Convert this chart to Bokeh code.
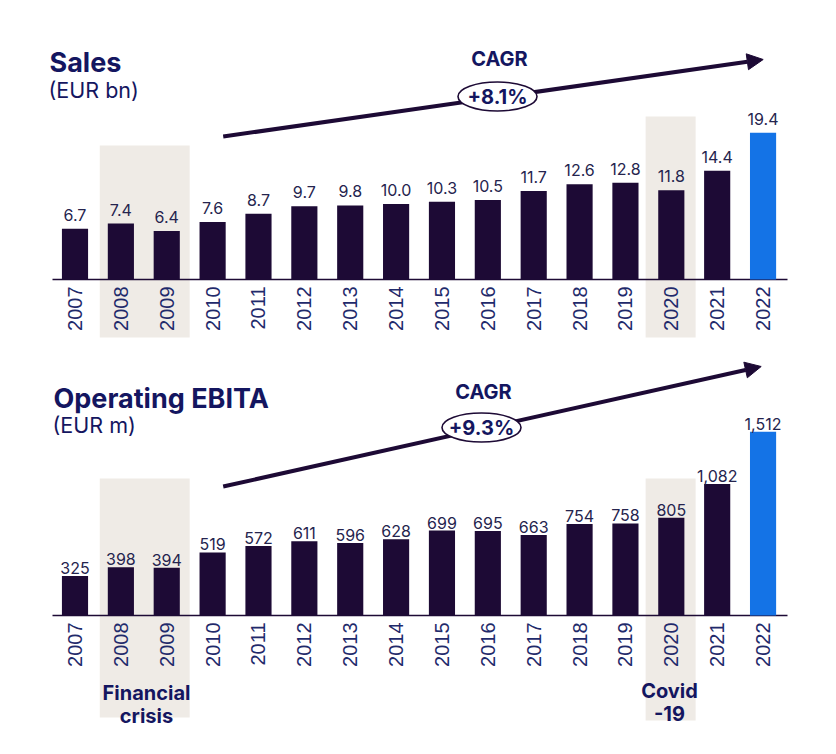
import math
from bokeh.plotting import figure
from bokeh.models import Range1d, Arrow, NormalHead, Label, ColumnDataSource
from bokeh.layouts import column
from bokeh.core.properties import value
from bokeh.embed import file_html
from bokeh.resources import INLINE

# ---------------- data ----------------
years = [2007, 2008, 2009, 2010, 2011, 2012, 2013, 2014, 2015, 2016, 2017, 2018, 2019, 2020, 2021, 2022]
sales = [6.7, 7.4, 6.4, 7.6, 8.7, 9.7, 9.8, 10.0, 10.3, 10.5, 11.7, 12.6, 12.8, 11.8, 14.4, 19.4]
sales_labels = ["6.7", "7.4", "6.4", "7.6", "8.7", "9.7", "9.8", "10.0", "10.3", "10.5", "11.7", "12.6", "12.8", "11.8", "14.4", "19.4"]
ebita = [325, 398, 394, 519, 572, 611, 596, 628, 699, 695, 663, 754, 758, 805, 1082, 1512]
ebita_labels = ["325", "398", "394", "519", "572", "611", "596", "628", "699", "695", "663", "754", "758", "805", "1,082", "1,512"]
year_labels = [str(y) for y in years]
sales_cagr = "+8.1%"
ebita_cagr = "+9.3%"
crisis_years = [2008, 2009]
covid_years = [2020, 2020]

# ---------------- style ----------------
DARK = "#1d0a35"
BLUE = "#1473e6"
NAVY = "#141660"
VAL = "#25244e"
YEARC = "#1f2a6b"
SHADE = "#efebe6"
FONT = "Inter"

OFF = 0             # page offset of the figures in the photograph
W = 836
SX = 45.87          # px per year
X2007 = 74.5        # image x of 2007
def xd(ix):
    return 2007 + (ix - X2007) / SX
XR = (xd(OFF), xd(OFF + W))

bar_colors = [BLUE if y == years[-1] else DARK for y in years]


def make_panel(h, top_img, base_img, ppu, vals, labels, title, unit, cagr,
               title_xy, unit_xy, arrow_s, arrow_e, ell_c, cagr_y, shades, lab_off, bottom_notes):
    def yd(iy):
        return (base_img - iy) / ppu
    p = figure(width=W, height=h, output_backend="svg", toolbar_location=None,
               x_range=Range1d(*XR), y_range=Range1d(yd(top_img + h), yd(top_img)),
               min_border=0, min_border_left=0, min_border_right=0,
               min_border_top=0, min_border_bottom=0)
    p.axis.visible = False
    p.grid.visible = False
    p.outline_line_color = None
    p.background_fill_color = "white"
    p.border_fill_color = "white"

    # shaded periods
    for (y0, y1, padl, padr, ttop, tbot) in shades:
        p.quad(left=[y0 - padl], right=[y1 + padr], top=[yd(ttop)], bottom=[yd(tbot)],
               fill_color=SHADE, line_color=None)

    # baseline
    p.segment(x0=[xd(52)], x1=[xd(787)], y0=[0], y1=[0], line_color=DARK, line_width=1.6)

    src = ColumnDataSource(dict(x=years, top=vals, c=bar_colors, lab=labels, yl=year_labels))
    p.vbar(x="x", top="top", width=0.57, fill_color="c", line_color=None, source=src)

    p.text(x="x", y="top", text="lab", source=src, text_align="center",
           text_baseline="alphabetic", y_offset=-lab_off, text_color=VAL,
           text_font=value(FONT), text_font_size="16px")

    p.text(x="x", y=yd(base_img + 7), text="yl", source=src, angle=math.pi / 2,
           text_align="right", text_baseline="middle", text_color=YEARC,
           text_font=value("Liberation Sans"), text_font_size="20px")

    # titles
    p.add_layout(Label(x=title_xy[0] - OFF, y=yd(title_xy[1]), text=title, text_color=NAVY,
                       text_font=FONT, text_font_style="bold", text_font_size="27px",
                       x_units="screen", text_baseline="alphabetic"))
    p.add_layout(Label(x=unit_xy[0] - OFF, y=yd(unit_xy[1]), text=unit, text_color=NAVY,
                       text_font=FONT, text_font_size="21.5px",
                       x_units="screen", text_baseline="alphabetic"))

    # CAGR arrow
    arr = Arrow(x_start=xd(arrow_s[0]), y_start=yd(arrow_s[1]),
                x_end=xd(arrow_e[0]), y_end=yd(arrow_e[1]),
                line_color=DARK, line_width=4,
                end=NormalHead(size=16, fill_color=DARK, line_color=DARK, line_width=1))
    p.add_layout(arr)
    e = p.ellipse(x=[xd(ell_c[0])], y=[yd(ell_c[1])], width=[79], height=[29],
                  width_units="screen", height_units="screen",
                  fill_color="white", line_color=DARK, line_width=1.6)
    e.level = "overlay"
    t = p.text(x=[xd(ell_c[0])], y=[yd(ell_c[1])], text=[cagr], text_align="center",
               text_baseline="middle", text_color=NAVY, text_font=value(FONT),
               text_font_style="bold", text_font_size="20px")
    t.level = "overlay"
    p.text(x=[xd(ell_c[0] + 2)], y=[yd(cagr_y)], text=["CAGR"], text_align="center",
           text_baseline="middle", text_color=NAVY, text_font=value(FONT),
           text_font_style="bold", text_font_size="20px")

    for (cx, lines) in bottom_notes:
        for (txt, by) in lines:
            p.text(x=[xd(cx)], y=[yd(by)], text=[txt], text_align="center",
                   text_baseline="alphabetic", text_color=NAVY, text_font=value(FONT),
                   text_font_style="bold", text_font_size="20px")
    return p


H1 = 350
p1 = make_panel(H1, OFF, 279, 7.56, sales, sales_labels, "Sales", "(EUR bn)", sales_cagr,
                (49, 61.5), (48, 89), (222.7, 136), (762.7, 59), (497, 96), 58.5,
                [(crisis_years[0], crisis_years[1], 0.46, 0.5, 145, 337),
                 (covid_years[0], covid_years[1], 0.56, 0.53, 116, 337)],
                14, [])

p2 = make_panel(754 - H1 - OFF, OFF + H1, 615, 0.1215, ebita, ebita_labels, "Operating EBITA", "(EUR m)", ebita_cagr,
                (53, 397.5), (52, 424), (222.7, 486), (760.7, 366), (481, 427), 391.5,
                [(crisis_years[0], crisis_years[1], 0.46, 0.5, 478, 717),
                 (covid_years[0], covid_years[1], 0.56, 0.53, 478, 720)],
                8, [(146, [("Financial", 692), ("crisis", 715)]),
                    (669, [("Covid", 690.5), ("-19", 712.5)])])

layout = column(p1, p2, spacing=0)
open("out.html", "w").write(file_html(layout, INLINE))
